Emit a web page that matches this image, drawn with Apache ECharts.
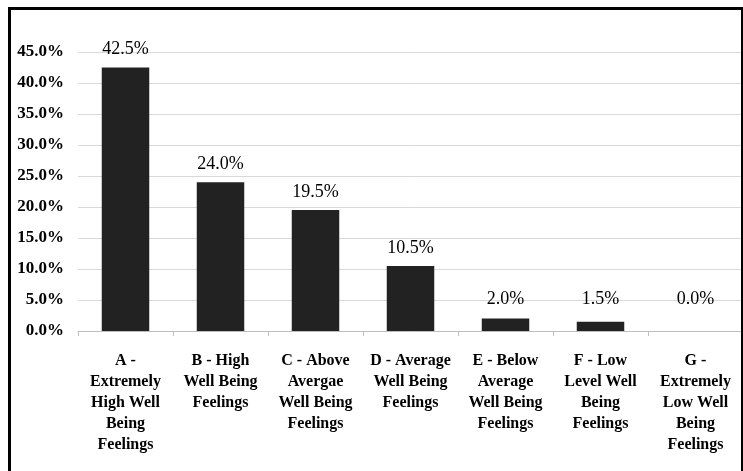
<!DOCTYPE html>
<html>
<head>
<meta charset="utf-8">
<script src="https://cdn.jsdelivr.net/npm/echarts@6/dist/echarts.min.js"></script>
<style>
  html, body { margin: 0; padding: 0; background: #fff; }
  #main { position: absolute; left: 0; top: 0; width: 743px; height: 471px; }
  #frame { position: absolute; left: 8px; top: 7px; width: 730px; height: 470px;
           border: 3px solid #000; border-bottom: none; pointer-events: none; }
</style>
</head>
<body>
<div id="main"></div>
<div id="frame"></div>
<script>
// categories and values
var categories = [
  'A -\nExtremely\nHigh Well\nBeing\nFeelings',
  'B - High\nWell Being\nFeelings',
  'C - Above\nAvergae\nWell Being\nFeelings',
  'D - Average\nWell Being\nFeelings',
  'E - Below\nAverage\nWell Being\nFeelings',
  'F - Low\nLevel Well\nBeing\nFeelings',
  'G -\nExtremely\nLow Well\nBeing\nFeelings'
];
var percents = [42.5, 24.0, 19.5, 10.5, 2.0, 1.5, 0.0];

var yMax = 45;
var plotHeight = 279;
var serif = "'Liberation Serif', 'Times New Roman', serif";

var myChart = echarts.init(document.getElementById('main'));

// small bars keep their label at a minimum height, like the original
var seriesData = percents.map(function (v) {
  var h = v / yMax * plotHeight;
  return { value: v, label: { distance: 9 + Math.max(0, 14 - h) } };
});

var option = {
  animation: false,
  grid: { left: 78, right: 0, top: 52, bottom: 140, containLabel: false },
  xAxis: {
    type: 'category',
    data: categories,
    axisLine: { lineStyle: { color: '#bfbfbf', width: 1 } },
    axisTick: { show: true, length: 5, lineStyle: { color: '#bfbfbf' } },
    axisLabel: {
      interval: 0,
      margin: 19,
      color: '#000',
      fontFamily: serif,
      fontWeight: 'bold',
      fontSize: 16,
      lineHeight: 21
    }
  },
  yAxis: {
    type: 'value',
    min: 0,
    max: yMax,
    interval: 5,
    axisLine: { show: false },
    axisTick: { show: false },
    splitLine: { lineStyle: { color: '#d9d9d9', width: 1 } },
    axisLabel: {
      margin: 14,
      color: '#000',
      fontFamily: serif,
      fontWeight: 'bold',
      fontSize: 17,
      formatter: function (v) { return v.toFixed(1) + '%'; }
    }
  },
  series: [
    {
      type: 'bar',
      barWidth: '50%',
      itemStyle: { color: '#222222' },
      label: {
        show: true,
        position: 'top',
        color: '#000',
        fontFamily: serif,
        fontSize: 18,
        formatter: function (p) { return p.value.toFixed(1) + '%'; }
      },
      data: seriesData
    }
  ]
};

myChart.setOption(option);
</script>
</body>
</html>
